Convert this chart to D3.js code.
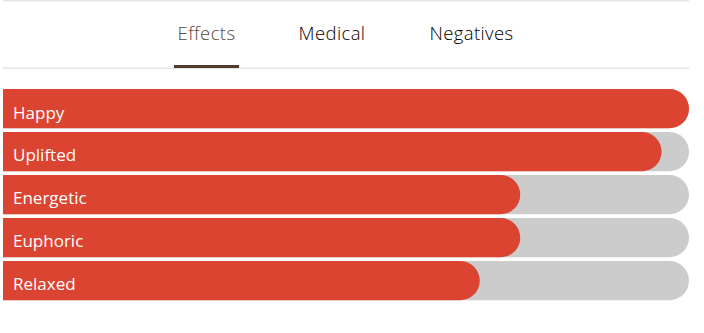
<!DOCTYPE html>
<html><head><meta charset="utf-8">
<script src="https://cdn.jsdelivr.net/npm/d3@7"></script>
<style>html,body{margin:0;padding:0;background:#fff;}svg{display:block;}</style>
</head><body>
<svg id="chart" width="704" height="333"></svg>
<script>
const tabs = ["Effects", "Medical", "Negatives"];
const tabCenters = [206.5, 332, 471.5];
const categories = ["Happy", "Uplifted", "Energetic", "Euphoric", "Relaxed"];
const values = [100, 96, 75.4, 75.4, 69.5];

const svg = d3.select("#chart");
const left = 3, right = 689;
const font = "'Open Sans', Lato, sans-serif";
// header lines
svg.append("rect").attr("x", left).attr("y", 0).attr("width", right - left).attr("height", 1.5).attr("fill", "#e6e6e6");
svg.append("rect").attr("x", left).attr("y", 67.5).attr("width", right - left).attr("height", 1.5).attr("fill", "#e6e6e6");

svg.selectAll("text.tab").data(tabs).enter().append("text")
  .attr("class", "tab")
  .attr("x", (d, i) => tabCenters[i]).attr("y", 40)
  .attr("text-anchor", "middle")
  .attr("font-family", font)
  .attr("font-size", 18.5)
  .attr("font-weight", 350)
  .attr("letter-spacing", 0.4)
  .attr("fill", (d, i) => i === 0 ? "#5a463b" : "#000000")
  .text(d => d);
svg.append("rect").attr("x", 174).attr("y", 65).attr("width", 65).attr("height", 3).attr("fill", "#4f3b30");

const x = d3.scaleLinear().domain([0, 100]).range([left, right]);
const y = d3.scaleBand().domain(categories).range([89, 300.3]).paddingInner(0.086).paddingOuter(0);
const h = y.bandwidth();

function roundedRight(x0, x1, y0, hh) {
  const rr = Math.min(hh / 2, x1 - x0);
  const p = d3.path();
  p.moveTo(x0, y0);
  p.lineTo(x1 - rr, y0);
  p.arcTo(x1, y0, x1, y0 + rr, rr);
  p.lineTo(x1, y0 + hh - rr);
  p.arcTo(x1, y0 + hh, x1 - rr, y0 + hh, rr);
  p.lineTo(x0, y0 + hh);
  p.closePath();
  return p.toString();
}

const g = svg.selectAll("g.bar").data(categories).enter().append("g").attr("class", "bar");
g.append("path").attr("d", d => roundedRight(x(0), x(100), y(d), h)).attr("fill", "#cccccc");
g.append("path").attr("d", (d, i) => roundedRight(x(0), x(values[i]), y(d), h)).attr("fill", "#db4430");
g.append("text")
  .attr("x", 13).attr("y", d => y(d) + 29.5)
  .attr("font-family", font)
  .attr("font-size", 17)
  .attr("fill", "#ffffff")
  .text(d => d);
</script>
</body></html>
